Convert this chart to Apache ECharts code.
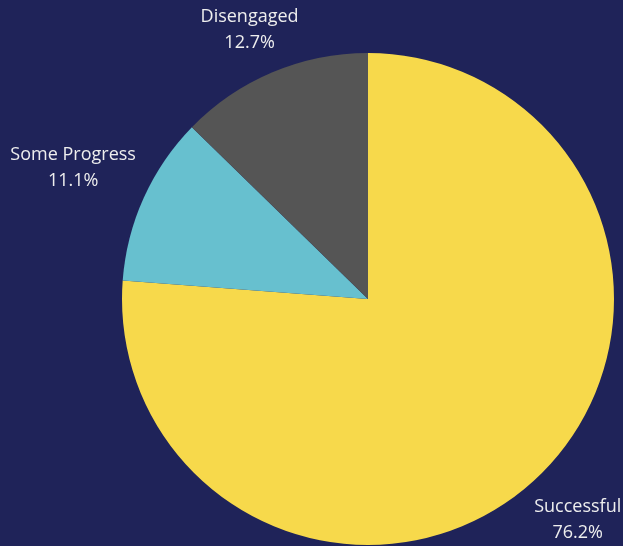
<!DOCTYPE html>
<html>
<head>
<meta charset="utf-8">
<style>
html,body{margin:0;padding:0;background:#1f2359;}
#chart{width:623px;height:546px;}
</style>
<script src="https://cdn.jsdelivr.net/npm/echarts@6/dist/echarts.min.js"></script>
</head>
<body>
<div id="chart"></div>
<script>
const categories = ['Successful', 'Some Progress', 'Disengaged'];
const values = [48, 7, 8];
const colors = ['#f7d94b', '#67c0cf', '#555555'];
const labelOffsets = [55, 72, 46];

const chart = echarts.init(document.getElementById('chart'));
const total = values.reduce((a, b) => a + b, 0);
chart.setOption({
  backgroundColor: '#1f2359',
  animation: false,
  series: [{
    type: 'pie',
    center: [368, 299],
    radius: [0, 246],
    startAngle: 90,
    clockwise: true,
    avoidLabelOverlap: false,
    itemStyle: { borderWidth: 0 },
    label: {
      show: true,
      position: 'outside',
      color: '#eeeeee',
      fontFamily: 'Open Sans',
      fontSize: 18,
      lineHeight: 26,
      align: 'center',
      formatter: p => p.name + '\n' + (p.value / total * 100).toFixed(1) + '%'
    },
    labelLine: { show: false, length2: 0 },
    labelLayout: { align: 'center' },
    data: categories.map((c, i) => ({
      name: c,
      value: values[i],
      itemStyle: { color: colors[i] },
      labelLine: { show: false, length: labelOffsets[i], length2: 0 }
    }))
  }]
});
</script>
</body>
</html>
